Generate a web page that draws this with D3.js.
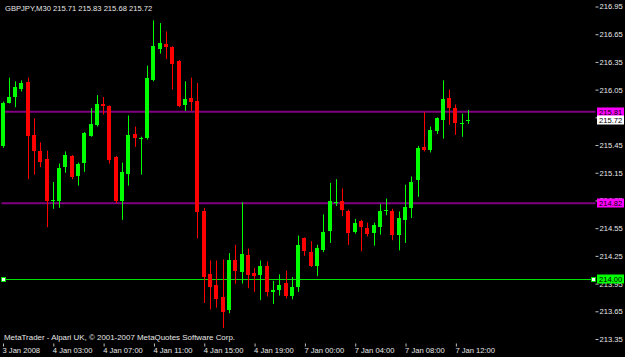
<!DOCTYPE html>
<html>
<head>
<meta charset="utf-8">
<script src="https://cdnjs.cloudflare.com/ajax/libs/d3/7.8.5/d3.min.js"></script>
<style>
html, body { margin: 0; padding: 0; background: #000; }
svg { display: block; }
text { font-family: "Liberation Sans", Arial, sans-serif; font-size: 7.6px; }
</style>
</head>
<body>
<svg id="chart" width="625" height="357"></svg>
<script>
// GBPJPY M30 bars
var symbol = "GBPJPY,M30";
var opens = [215.44,215.91,215.97,216.06,216.13,215.56,215.39,215.30,214.85,214.84,
  215.21,215.33,215.12,215.25,215.55,215.66,215.89,215.87,215.32,214.85,
  215.14,215.57,215.52,215.53,216.15,216.49,216.54,216.51,216.36,215.88,
  215.96,215.93,214.74,214.05,213.94,213.81,213.66,214.21,214.08,214.26,
  214.06,214.04,214.14,213.86,213.89,213.96,213.81,213.91,214.44,214.29,
  214.15,214.31,214.52,214.82,214.84,214.74,214.51,214.63,214.55,214.49,
  214.57,214.74,214.74,214.48,214.64,214.77,215.07,215.43,215.39,215.60,
  215.72,215.96,215.85,215.68,215.71];
var highs = [215.92,216.18,216.14,216.15,216.18,215.74,215.48,215.39,215.05,215.25,
  215.38,215.34,215.26,215.59,215.85,215.99,215.97,215.88,215.33,215.26,
  215.77,215.65,215.54,216.31,216.80,216.77,216.68,216.52,216.37,216.14,
  216.18,216.12,214.77,214.20,214.20,214.21,214.28,214.37,214.83,214.33,
  214.12,214.20,214.19,213.98,214.05,214.09,214.02,214.47,214.45,214.41,
  214.37,214.70,215.04,215.08,214.98,214.75,214.65,214.64,214.61,214.61,
  214.81,214.87,214.76,214.73,215.02,215.11,215.44,215.81,215.65,215.75,
  216.15,216.05,215.89,215.79,215.83];
var lows = [215.42,215.90,215.86,216.03,215.08,215.13,215.21,214.56,214.76,214.77,
  215.15,215.08,215.01,215.16,215.54,215.65,215.78,215.25,214.82,214.64,
  215.01,215.43,215.13,215.51,216.14,216.44,216.38,216.05,215.86,215.82,
  215.82,214.44,213.74,213.67,213.69,213.47,213.63,213.95,213.95,213.90,
  213.86,213.77,213.81,213.73,213.82,213.79,213.78,213.86,214.25,214.13,
  214.03,214.29,214.39,214.79,214.68,214.37,214.49,214.30,214.46,214.36,
  214.48,214.69,214.42,214.31,214.39,214.66,214.89,215.38,215.37,215.57,
  215.52,215.67,215.56,215.54,215.68];
var closes = [215.91,215.97,216.08,216.12,215.54,215.39,215.27,214.84,214.86,215.20,
  215.34,215.10,215.25,215.58,215.68,215.89,215.87,215.29,214.84,215.16,
  215.56,215.53,215.53,216.18,216.52,216.55,216.51,216.33,215.87,215.95,
  215.92,214.73,214.03,213.91,213.79,213.65,214.20,214.09,214.27,214.04,
  214.03,214.14,213.86,213.88,213.94,213.82,213.91,214.37,214.30,214.14,
  214.34,214.51,214.84,214.83,214.74,214.50,214.61,214.56,214.48,214.58,
  214.74,214.75,214.48,214.66,214.78,215.05,215.42,215.40,215.61,215.74,
  215.95,215.85,215.69,215.69,215.72];

var tickBars = [0, 8, 16, 24, 32, 40, 48, 56, 64, 72];
var tickLabels = ["3 Jan 2008", "4 Jan 03:00", "4 Jan 07:00", "4 Jan 11:00", "4 Jan 15:00",
  "4 Jan 19:00", "7 Jan 00:00", "7 Jan 04:00", "7 Jan 08:00", "7 Jan 12:00"];
var priceTicks = [216.95, 216.65, 216.35, 216.05, 215.75, 215.45, 215.15, 214.85, 214.55, 214.25, 213.95, 213.65, 213.35];

var levelLines = [215.81, 214.82];   // purple horizontal lines
var supportLevel = 214.00;           // green horizontal line

var copyright = "MetaTrader - Alpari UK, \u00a9 2001-2007 MetaQuotes Software Corp.";

var svg = d3.select("#chart"),
    width = 625,
    height = 357,
    left = 1.5, right = 595.5, top = 1.5, bottom = 343.5;

svg.append("rect").attr("width", width).attr("height", height).attr("fill", "#000");

var n = opens.length;
var x = d3.scaleLinear().domain([0, n - 1]).range([3, 3 + (n - 1) * 6.29]);
var y = d3.scaleLinear().domain([213.35, 216.95]).range([339, 6.5]);

var last = closes[n - 1];
var header = symbol + " " + [opens[n - 1], highs[n - 1], lows[n - 1], closes[n - 1]].map(d3.format(".2f")).join(" ");

// horizontal lines
svg.selectAll("line.level")
    .data(levelLines)
    .enter().append("line")
    .attr("class", "level")
    .attr("x1", left).attr("x2", right)
    .attr("y1", function (d) { return y(d); })
    .attr("y2", function (d) { return y(d); })
    .attr("stroke", "#800080")
    .attr("stroke-width", 2);

svg.append("line")
    .attr("x1", left).attr("x2", right)
    .attr("y1", Math.round(y(supportLevel)) + 0.5)
    .attr("y2", Math.round(y(supportLevel)) + 0.5)
    .attr("stroke", "#00e000")
    .attr("stroke-width", 1);

[left + 2, right - 2].forEach(function (px) {
  svg.append("rect")
      .attr("x", px - 2).attr("y", Math.round(y(supportLevel)) - 1.5)
      .attr("width", 4).attr("height", 4)
      .attr("fill", "#fff")
      .attr("stroke", "#00e000")
      .attr("stroke-width", 1);
});

// candles
var bars = svg.append("g").selectAll("g")
    .data(d3.range(n))
    .enter().append("g");

function bodyX(i) { return Math.floor(x(i) - 2); }
function barColor(i) { return closes[i] >= opens[i] ? "#00ff00" : "#ff0000"; }

bars.append("line")
    .attr("x1", function (i) { return bodyX(i) + 2.5; })
    .attr("x2", function (i) { return bodyX(i) + 2.5; })
    .attr("y1", function (i) { return y(highs[i]); })
    .attr("y2", function (i) { return y(lows[i]); })
    .attr("stroke", barColor)
    .attr("stroke-width", 1);

bars.append("rect")
    .attr("x", bodyX)
    .attr("width", 4)
    .attr("y", function (i) { return Math.round(y(Math.max(opens[i], closes[i]))); })
    .attr("height", function (i) { return Math.max(1, Math.round(Math.abs(y(opens[i]) - y(closes[i])))); })
    .attr("fill", barColor)
    .attr("shape-rendering", "crispEdges");

// frame
svg.append("path")
    .attr("d", "M" + left + "," + bottom + "V" + top + "H" + right)
    .attr("fill", "none").attr("stroke", "#808080");
svg.append("path")
    .attr("d", "M" + right + "," + top + "V" + bottom + "H" + left)
    .attr("fill", "none").attr("stroke", "#c0c0c0");

// price axis
var yAxis = svg.append("g")
    .attr("transform", "translate(" + right + ",0)")
    .call(d3.axisRight(y).tickValues(priceTicks).tickFormat(d3.format(".2f"))
      .tickSize(3).tickSizeOuter(0).tickPadding(1));
yAxis.select(".domain").remove();
yAxis.selectAll("line").attr("stroke", "#c0c0c0");
yAxis.selectAll("text").attr("fill", "#e8e8e8").attr("font-family", null).attr("font-size", null);

// time axis
var xAxis = svg.append("g")
    .attr("transform", "translate(0," + bottom + ")")
    .call(d3.axisBottom(x).tickValues(tickBars)
      .tickFormat(function (d, i) { return tickLabels[i]; })
      .tickSize(3).tickSizeOuter(0).tickPadding(1));
xAxis.select(".domain").remove();
xAxis.selectAll("line").attr("stroke", "#c0c0c0");
xAxis.selectAll("text").attr("fill", "#e8e8e8").attr("text-anchor", "start")
    .attr("x", -1).attr("font-family", null).attr("font-size", null);

// price tags on the axis, drawn over the tick labels like the terminal does
var tags = [
  { v: levelLines[0], bg: "#ff00ff" },
  { v: last, bg: "#ffffff" },
  { v: levelLines[1], bg: "#ff00ff" },
  { v: supportLevel, bg: "#00ff00" }
];
var tag = svg.selectAll("g.tag").data(tags).enter().append("g").attr("class", "tag");
tag.append("rect")
    .attr("x", 597).attr("width", 27)
    .attr("y", function (d) { return Math.round(y(d.v)) - 4.5; })
    .attr("height", 9)
    .attr("fill", function (d) { return d.bg; });
tag.append("text")
    .attr("x", 599)
    .attr("y", function (d) { return Math.round(y(d.v)); })
    .attr("dy", "0.35em")
    .attr("fill", "#000")
    .text(function (d) { return d3.format(".2f")(d.v); });

// texts
svg.append("text").attr("x", 5).attr("y", 11).attr("fill", "#e8e8e8").text(header);
svg.append("text").attr("x", 4).attr("y", 340).attr("fill", "#e8e8e8")
    .attr("textLength", 231).attr("lengthAdjust", "spacingAndGlyphs")
    .text(copyright);
</script>
</body>
</html>
